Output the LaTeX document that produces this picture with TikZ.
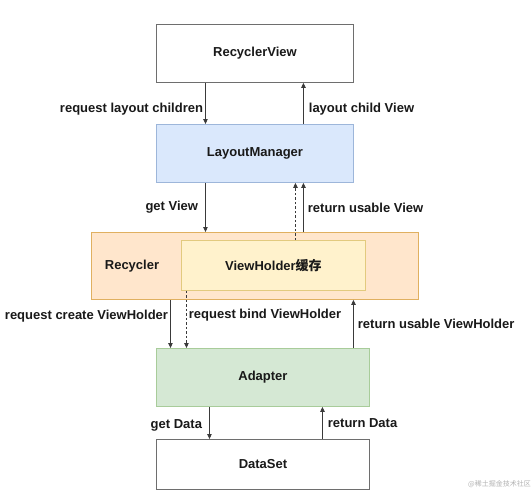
\documentclass[tikz,border=0pt]{standalone}
\usepackage{fontspec}
\setmainfont{Liberation Sans}
\newfontfamily\cjk{Noto Sans CJK SC}
\usetikzlibrary{arrows.meta}
\definecolor{lmfill}{HTML}{DAE8FC}\definecolor{lmdraw}{HTML}{9DB6DA}
\definecolor{recfill}{HTML}{FFE6CC}\definecolor{recdraw}{HTML}{E0B060}
\definecolor{vhfill}{HTML}{FFF2CC}\definecolor{vhdraw}{HTML}{E2CA7E}
\definecolor{adfill}{HTML}{D5E8D4}\definecolor{addraw}{HTML}{A8CC9A}
\definecolor{boxgray}{HTML}{6E6E6E}
\definecolor{arrgray}{HTML}{3A3A3A}
\begin{document}
\begin{tikzpicture}[x=1pt,y=-1pt,
  every node/.style={font=\fontsize{13}{15}\selectfont\bfseries, text=black!90},
  box/.style={draw, line width=0.9pt, inner sep=0pt, anchor=north west},
  arr/.style={draw=arrgray, line width=0.9pt, -{Triangle[length=5pt,width=4.5pt]}},
  dasharr/.style={arr, dash pattern=on 2.5pt off 2pt},
  lbl/.style={inner sep=0pt}]
\useasboundingbox[fill=white] (0,0) rectangle (532,498);
\node[box, draw=boxgray, fill=white, minimum width=197pt, minimum height=58pt] (rv) at (156,24) {RecyclerView};
\node[box, draw=lmdraw, fill=lmfill, minimum width=197pt, minimum height=58pt] (lm) at (156,124) {LayoutManager};
\node[box, draw=recdraw, fill=recfill, minimum width=327pt, minimum height=67pt] (rec) at (91,232) {};
\node[anchor=center] (reclbl) at (132,266) {Recycler};
\node[box, draw=vhdraw, fill=vhfill, minimum width=184pt, minimum height=50pt] (vh) at (181,240) {ViewHolder{\cjk 缓存}};
\node[box, draw=addraw, fill=adfill, minimum width=213pt, minimum height=58pt] (ad) at (156,348) {Adapter};
\node[box, draw=boxgray, fill=white, minimum width=213pt, minimum height=50pt] (ds) at (156,439) {DataSet};
% arrows
\draw[arr] ([xshift=-49.5pt]rv.south) -- node[lbl, pos=0.63, anchor=east, xshift=-2pt] {request layout children} ([xshift=-49.5pt]lm.north);
\draw[arr] ([xshift=48.5pt]lm.north) -- node[lbl, pos=0.37, anchor=west, xshift=5pt] {layout child View} ([xshift=48.5pt]rv.south);
\draw[arr] ([xshift=-49.5pt]lm.south) -- node[lbl, pos=0.5, anchor=east, xshift=-7pt] {get View} ([xshift=-49.5pt]rec.north);
\draw[dasharr] ([xshift=22pt]vh.north) -- ([xshift=40.5pt]lm.south);
\draw[arr] ([xshift=48.5pt]rec.north) -- node[lbl, pos=0.5, anchor=west, xshift=4pt] {return usable View} ([xshift=48.5pt]lm.south);
\draw[arr] ([xshift=-84.5pt]rec.south) -- node[lbl, pos=0.34, anchor=east, xshift=-2pt] {request create ViewHolder} ([xshift=-92.5pt]ad.north);
\draw[dasharr] ([xshift=-87pt]vh.south) -- node[lbl, pos=0.42, anchor=west, xshift=2pt] {request bind ViewHolder} ([xshift=-76.5pt]ad.north);
\draw[arr] ([xshift=90.5pt]ad.north) -- node[lbl, pos=0.5, anchor=west, xshift=4pt] {return usable ViewHolder} ([xshift=98.5pt]rec.south);
\draw[arr] ([xshift=-53.5pt]ad.south) -- node[lbl, pos=0.58, anchor=east, xshift=-7pt] {get Data} ([xshift=-53.5pt]ds.north);
\draw[arr] ([xshift=59.5pt]ds.north) -- node[lbl, pos=0.5, anchor=west, xshift=5pt] {return Data} ([xshift=59.5pt]ad.south);
% watermark
\node[anchor=west, inner sep=0pt, font=\cjk\fontsize{7}{8}\selectfont, text=black!30] (wm) at (468,484) {@稀土掘金技术社区};
\end{tikzpicture}
\end{document}
